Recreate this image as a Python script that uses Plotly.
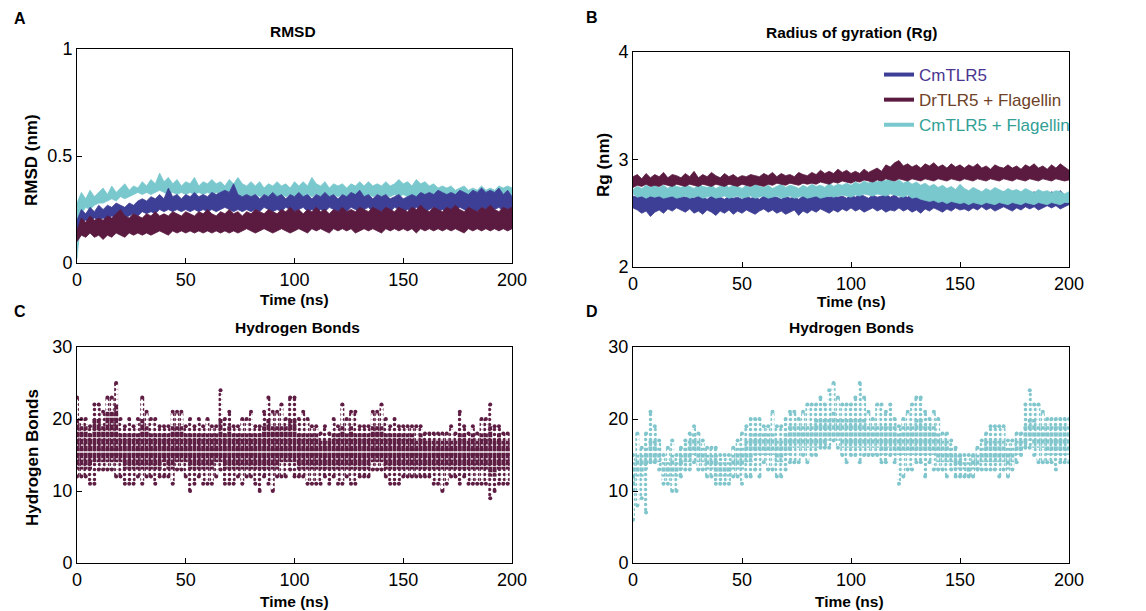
import plotly.graph_objects as go

# ---------------- data ----------------
time_ns = list(range(0, 201, 2))

# A - RMSD (nm): upper / lower edge of each trace band
rmsd_cmf_hi = [0.28,0.33,0.30,0.34,0.31,0.33, 0.35,0.32,0.36,0.33,0.35, 0.37,0.34,0.36,0.35,0.38,
               0.36,0.39,0.37,0.42,0.38, 0.40,0.37,0.39,0.36,0.38, 0.37,0.40,0.36,0.38,0.37,
               0.39,0.37,0.38,0.36,0.39, 0.37,0.40,0.37,0.36,0.38, 0.36,0.38,0.35,0.37,0.36,
               0.38,0.36,0.37,0.35,0.38, 0.36,0.38,0.36,0.40,0.37, 0.36,0.38,0.35,0.37,0.36,
               0.37,0.35,0.37,0.36,0.38, 0.36,0.38,0.36,0.37,0.36, 0.38,0.36,0.37,0.39,0.37,
               0.38,0.36,0.39,0.37,0.38, 0.36,0.37,0.35,0.36,0.35, 0.36,0.34,0.35,0.36,0.34,
               0.35,0.34,0.36,0.34,0.35, 0.34,0.36,0.35,0.36,0.35]
rmsd_cmf_lo = [0.02,0.23,0.26,0.25,0.27,0.28, 0.28,0.29,0.30,0.29,0.31, 0.30,0.31,0.32,0.33,0.32,
               0.33,0.32,0.33,0.34,0.33, 0.32,0.33,0.32,0.33,0.32, 0.33,0.32,0.33,0.32,0.33,
               0.32,0.33,0.32,0.33,0.32, 0.33,0.32,0.31,0.32,0.31, 0.32,0.31,0.32,0.31,0.32,
               0.31,0.32,0.31,0.32,0.31, 0.32,0.31,0.32,0.31,0.32, 0.31,0.32,0.31,0.32,0.31,
               0.32,0.31,0.32,0.31,0.32, 0.31,0.32,0.31,0.32,0.31, 0.32,0.31,0.32,0.31,0.32,
               0.31,0.32,0.30,0.31,0.30, 0.31,0.30,0.29,0.30,0.29, 0.30,0.29,0.30,0.29,0.30,
               0.29,0.30,0.29,0.30,0.29, 0.30,0.29,0.30,0.31,0.31]
rmsd_cm_hi = [0.20,0.25,0.23,0.26,0.24,0.27, 0.25,0.27,0.26,0.28,0.27, 0.26,0.28,0.27,0.29,0.30,
              0.29,0.31,0.30,0.32,0.30, 0.35,0.31,0.32,0.30,0.32, 0.31,0.33,0.31,0.32,0.31,
              0.33,0.32,0.33,0.34,0.33, 0.37,0.32,0.31,0.32,0.31, 0.32,0.30,0.32,0.31,0.33,
              0.31,0.32,0.30,0.32,0.31, 0.33,0.31,0.32,0.30,0.32, 0.31,0.33,0.31,0.32,0.30,
              0.32,0.31,0.33,0.32,0.34, 0.31,0.32,0.30,0.32,0.31, 0.32,0.30,0.31,0.32,0.30,
              0.31,0.32,0.31,0.33,0.32, 0.33,0.32,0.34,0.33,0.32, 0.33,0.32,0.34,0.33,0.32,
              0.34,0.33,0.35,0.33,0.34, 0.33,0.35,0.32,0.34,0.31]
rmsd_cm_lo = [0.12,0.19,0.20,0.19,0.21,0.20, 0.21,0.20,0.22,0.21,0.22, 0.21,0.22,0.23,0.22,0.24,
              0.23,0.24,0.23,0.25,0.24, 0.25,0.24,0.25,0.24,0.25, 0.24,0.25,0.24,0.25,0.24,
              0.25,0.24,0.25,0.26,0.25, 0.24,0.25,0.24,0.25,0.24, 0.25,0.24,0.26,0.25,0.24,
              0.25,0.24,0.26,0.25,0.24, 0.25,0.26,0.24,0.25,0.24, 0.25,0.24,0.26,0.25,0.24,
              0.25,0.24,0.26,0.25,0.24, 0.25,0.26,0.24,0.25,0.24, 0.25,0.24,0.26,0.25,0.24,
              0.25,0.24,0.26,0.25,0.24, 0.25,0.26,0.24,0.25,0.24, 0.25,0.24,0.26,0.25,0.24,
              0.25,0.24,0.26,0.25,0.24, 0.25,0.26,0.24,0.25,0.25]
rmsd_dr_hi = [0.15,0.21,0.19,0.22,0.20,0.21, 0.20,0.22,0.21,0.23,0.25, 0.22,0.21,0.23,0.22,0.21,
              0.23,0.22,0.24,0.22,0.23, 0.22,0.24,0.23,0.22,0.24, 0.23,0.22,0.24,0.23,0.25,
              0.23,0.22,0.24,0.23,0.25, 0.23,0.24,0.22,0.24,0.23, 0.25,0.24,0.23,0.25,0.24,
              0.23,0.25,0.24,0.26,0.24, 0.25,0.23,0.25,0.24,0.26, 0.24,0.25,0.23,0.25,0.24,
              0.26,0.24,0.25,0.24,0.26, 0.25,0.24,0.26,0.25,0.24, 0.26,0.25,0.24,0.26,0.25,
              0.24,0.26,0.25,0.27,0.25, 0.24,0.26,0.25,0.24,0.26, 0.25,0.27,0.25,0.24,0.26,
              0.25,0.24,0.26,0.25,0.27, 0.25,0.24,0.26,0.25,0.26]
rmsd_dr_lo = [0.10,0.13,0.12,0.14,0.12,0.13, 0.11,0.13,0.12,0.14,0.13, 0.12,0.14,0.13,0.14,0.13,
              0.14,0.13,0.14,0.15,0.14, 0.13,0.15,0.14,0.15,0.14, 0.15,0.14,0.15,0.14,0.15,
              0.14,0.15,0.14,0.15,0.14, 0.15,0.14,0.15,0.16,0.15, 0.14,0.15,0.16,0.15,0.14,
              0.15,0.16,0.15,0.14,0.15, 0.16,0.15,0.14,0.16,0.15, 0.16,0.15,0.14,0.16,0.15,
              0.16,0.15,0.16,0.14,0.15, 0.16,0.15,0.16,0.15,0.14, 0.16,0.15,0.16,0.15,0.16,
              0.15,0.16,0.14,0.16,0.15, 0.16,0.15,0.16,0.15,0.16, 0.15,0.16,0.15,0.14,0.16,
              0.15,0.16,0.15,0.16,0.15, 0.16,0.15,0.16,0.15,0.16]

# B - radius of gyration (nm)
rg_dr_hi = [2.84,2.86,2.82,2.87,2.83,2.86, 2.84,2.88,2.83,2.86,2.85, 2.83,2.87,2.84,2.89,2.83,
            2.86,2.84,2.88,2.85,2.83, 2.87,2.84,2.86,2.83,2.85, 2.84,2.86,2.85,2.84,2.87,
            2.85,2.88,2.84,2.87,2.85, 2.86,2.84,2.88,2.86,2.85, 2.88,2.86,2.90,2.87,2.89,
            2.87,2.91,2.88,2.90,2.87, 2.89,2.87,2.91,2.88,2.90, 2.92,2.89,2.95,2.93,2.97,
            2.99,2.94,2.96,2.93,2.95, 2.92,2.96,2.94,2.97,2.93, 2.95,2.92,2.96,2.93,2.95,
            2.92,2.95,2.93,2.96,2.92, 2.94,2.91,2.95,2.93,2.92, 2.95,2.92,2.94,2.91,2.95,
            2.93,2.96,2.92,2.94,2.91, 2.95,2.92,2.96,2.93,2.90]
rg_dr_lo = [2.74,2.76,2.75,2.77,2.75,2.76, 2.75,2.77,2.76,2.75,2.77, 2.76,2.75,2.77,2.76,2.75,
            2.77,2.76,2.75,2.77,2.76, 2.75,2.77,2.76,2.75,2.77, 2.76,2.75,2.77,2.76,2.75,
            2.77,2.76,2.78,2.77,2.76, 2.78,2.77,2.76,2.78,2.77, 2.78,2.77,2.79,2.78,2.77,
            2.79,2.78,2.80,2.79,2.78, 2.80,2.79,2.81,2.80,2.79, 2.81,2.80,2.82,2.81,2.80,
            2.82,2.81,2.80,2.82,2.81, 2.80,2.82,2.81,2.80,2.82, 2.81,2.80,2.82,2.81,2.80,
            2.82,2.81,2.80,2.82,2.81, 2.80,2.82,2.81,2.80,2.82, 2.81,2.80,2.82,2.81,2.80,
            2.82,2.81,2.80,2.82,2.81, 2.80,2.82,2.81,2.80,2.81]
rg_cmf_hi = [2.72,2.75,2.73,2.76,2.74,2.77, 2.74,2.76,2.73,2.77,2.75, 2.74,2.76,2.75,2.73,2.77,
             2.75,2.74,2.76,2.73,2.75, 2.77,2.74,2.76,2.75,2.73, 2.76,2.74,2.77,2.75,2.74,
             2.76,2.73,2.75,2.77,2.74, 2.76,2.75,2.73,2.76,2.74, 2.77,2.75,2.76,2.74,2.78,
             2.75,2.77,2.76,2.78,2.76, 2.79,2.77,2.80,2.78,2.81, 2.79,2.82,2.80,2.83,2.79,
             2.81,2.78,2.80,2.77,2.79, 2.76,2.78,2.75,2.77,2.74, 2.76,2.73,2.75,2.72,2.77,
             2.73,2.71,2.74,2.72,2.70, 2.73,2.71,2.74,2.72,2.70, 2.73,2.71,2.72,2.70,2.73,
             2.71,2.69,2.72,2.70,2.71, 2.69,2.71,2.70,2.68,2.70]
rg_cmf_lo = [2.68,2.65,2.66,2.64,2.66,2.65, 2.66,2.64,2.65,2.66,2.64, 2.65,2.66,2.64,2.65,2.66,
             2.64,2.65,2.66,2.64,2.65, 2.66,2.64,2.65,2.66,2.64, 2.65,2.66,2.64,2.65,2.66,
             2.64,2.65,2.66,2.64,2.65, 2.66,2.64,2.65,2.66,2.64, 2.65,2.66,2.64,2.65,2.66,
             2.65,2.66,2.67,2.66,2.65, 2.67,2.66,2.68,2.67,2.66, 2.68,2.67,2.66,2.68,2.67,
             2.66,2.65,2.67,2.64,2.65, 2.63,2.62,2.61,2.62,2.60, 2.61,2.59,2.61,2.60,2.59,
             2.60,2.58,2.60,2.59,2.58, 2.60,2.59,2.58,2.60,2.59, 2.58,2.60,2.59,2.58,2.60,
             2.59,2.58,2.60,2.59,2.58, 2.60,2.59,2.58,2.60,2.60]
rg_cm_hi = [2.66,2.65,2.67,2.64,2.66,2.65, 2.67,2.65,2.68,2.66,2.64, 2.67,2.65,2.66,2.64,2.67,
            2.65,2.63,2.66,2.64,2.65, 2.63,2.66,2.64,2.65,2.63, 2.66,2.64,2.65,2.63,2.66,
            2.64,2.66,2.65,2.63,2.66, 2.64,2.65,2.63,2.66,2.64, 2.65,2.67,2.64,2.66,2.65,
            2.67,2.65,2.66,2.64,2.67, 2.65,2.68,2.66,2.64,2.67, 2.65,2.66,2.68,2.65,2.67,
            2.64,2.66,2.65,2.68,2.66, 2.64,2.67,2.65,2.66,2.64, 2.67,2.65,2.68,2.66,2.64,
            2.67,2.69,2.65,2.67,2.66, 2.68,2.66,2.69,2.67,2.70, 2.68,2.66,2.69,2.67,2.71,
            2.68,2.70,2.67,2.69,2.66, 2.70,2.68,2.71,2.67,2.68]
rg_cm_lo = [2.55,2.53,2.50,2.52,2.47,2.51, 2.53,2.50,2.54,2.52,2.55, 2.53,2.51,2.54,2.50,2.52,
            2.49,2.53,2.51,2.48,2.52, 2.50,2.53,2.49,2.52,2.50, 2.53,2.51,2.49,2.52,2.54,
            2.51,2.53,2.50,2.52,2.49, 2.51,2.53,2.48,2.52,2.50, 2.53,2.51,2.54,2.52,2.50,
            2.53,2.51,2.54,2.52,2.55, 2.52,2.54,2.51,2.53,2.55, 2.52,2.54,2.51,2.53,2.52,
            2.55,2.52,2.54,2.51,2.53, 2.50,2.54,2.52,2.55,2.53, 2.51,2.54,2.52,2.55,2.53,
            2.54,2.52,2.55,2.53,2.56, 2.53,2.55,2.52,2.54,2.56, 2.54,2.52,2.55,2.53,2.56,
            2.54,2.56,2.53,2.55,2.57, 2.55,2.57,2.54,2.56,2.58]

# C - hydrogen bonds DrTLR5 + Flagellin, per 2 ns window: extremes and dense core
hb_c_time = list(range(0, 200, 2))
hb_c_max = [23,20,20,19,22,22,21,23,23,25, 20,19,20,19,20,23,21,20,20,19,
            19,19,21,21,21,19,20,19,20,19, 20,19,19,24,20,21,19,19,20,20,
            21,19,19,21,23,21,21,22,20,23, 23,20,21,20,19,19,18,19,18,20,
            19,22,20,21,21,19,19,19,21,21, 22,20,19,20,19,19,19,19,19,19,
            18,18,18,18,18,18,19,18,21,19, 18,19,18,20,20,22,19,19,18,18]
hb_c_min = [12,12,12,11,11,13,13,13,13,12, 12,11,11,11,12,11,12,12,11,12,
            12,12,11,13,13,12,10,11,12,11, 11,11,12,13,11,11,11,12,11,12,
            12,11,10,12,11,10,12,12,12,13, 12,12,12,11,11,11,11,12,11,12,
            11,11,12,11,11,12,12,12,13,13, 13,12,11,11,11,12,12,12,12,12,
            12,12,11,11,10,11,12,12,11,12, 11,11,11,11,11,9,10,11,11,11]
hb_c_top = [20,19,19,18,20,20,19,21,21,22, 18,18,18,18,18,20,19,18,18,18,
            18,18,19,19,19,18,18,18,18,18, 18,18,18,20,18,19,18,18,18,18,
            18,18,18,19,20,19,19,19,19,20, 20,18,18,18,18,18,17,17,17,18,
            18,19,18,19,18,18,18,18,19,19, 19,18,18,18,18,18,18,18,17,18,
            17,17,17,17,17,17,17,17,18,18, 17,18,17,18,18,19,17,18,17,17]
hb_c_bot = [13,13,13,13,14,14,14,14,14,14, 14,13,13,13,13,13,13,13,13,13,
            14,13,13,14,14,14,13,13,13,13, 13,13,14,14,13,13,13,13,13,13,
            13,13,13,13,13,13,13,14,14,14, 14,13,13,13,13,13,13,13,13,13,
            13,13,13,13,13,13,13,13,14,14, 14,13,13,13,13,13,13,13,13,13,
            13,13,13,13,13,13,13,13,13,13, 13,13,13,13,13,12,12,13,13,13]

# D - hydrogen bonds CmTLR5 + Flagellin
hb_d_time = list(range(0, 201, 2))
hb_d_max = [15,18,16,18,21,19,17,15,16,17, 15,16,17,18,19,18,17,16,16,16,
            15,15,15,16,17,18,19,20,20,20, 19,19,21,19,19,20,21,21,20,21,
            22,22,22,23,22,24,25,23,22,22, 22,23,25,23,21,20,22,22,21,22,
            20,19,20,21,22,23,23,21,20,21, 20,18,18,17,16,15,15,15,15,16,
            17,18,19,19,19,19,17,17,18,18, 22,24,22,22,21,20,20,20,20,20, 20]
hb_d_min = [6,8,9,7,14,14,13,11,11,10, 10,12,13,13,14,13,13,12,12,11,
            11,11,11,12,12,11,12,12,13,12, 14,13,13,12,12,13,14,14,14,15,
            14,15,15,16,16,16,17,16,15,14, 15,15,14,15,15,15,15,14,14,15,
            14,11,12,13,13,14,14,12,14,13, 13,13,12,13,12,12,12,12,12,13,
            13,13,13,13,12,13,12,13,14,15, 16,16,15,14,14,14,14,13,14,14, 14]
hb_d_top = [14,15,15,16,17,17,16,14,14,15, 14,15,16,17,18,17,16,15,15,15,
            14,14,14,15,16,16,17,18,18,18, 18,18,18,17,17,18,19,19,19,19,
            19,19,20,20,20,20,21,20,20,20, 20,20,20,20,19,19,19,19,19,19,
            19,18,19,19,19,20,20,19,19,19, 18,17,17,16,15,15,14,14,15,15,
            16,17,17,17,17,17,16,16,17,17, 19,20,20,19,19,19,19,19,19,19, 19]
hb_d_bot = [10,12,12,13,14,14,14,12,12,12, 12,13,14,14,15,14,14,13,13,12,
            12,12,12,13,13,13,14,14,15,15, 15,15,15,14,14,15,15,16,16,16,
            16,16,16,16,16,17,17,17,16,16, 16,16,16,16,16,16,16,15,15,16,
            15,15,15,15,15,15,15,15,15,15, 14,14,14,14,13,13,13,12,13,13,
            14,14,14,14,14,14,13,14,15,15, 16,17,16,16,16,15,15,15,15,15, 15]

series_names = ["CmTLR5", "DrTLR5 + Flagellin", "CmTLR5 + Flagellin"]
line_colors = ["#3d3f96", "#5b1a40", "#79c8ce"]
text_colors = ["#4a3590", "#6e4226", "#33a096"]
hb_c_color = "#5e1d43"
hb_d_color = "#80c6cc"

FONT = "Arial, Liberation Sans, Helvetica, sans-serif"


def band(x, lo, hi, color, xa, ya):
    # filled band between lower and upper edge of a noisy trace
    return go.Scatter(x=x + x[::-1], y=hi + lo[::-1], mode="lines", fill="toself",
                      fillcolor=color, line=dict(color=color, width=0.8),
                      xaxis=xa, yaxis=ya, showlegend=False, hoverinfo="skip")


def hb_traces(t, vmin, vmax, bot, top, color, xa, ya, solid):
    out = []
    out.append(go.Bar(x=t, y=[a - b for a, b in zip(vmax, vmin)], base=vmin, width=1.8,
                      opacity=1,
                      marker=dict(color=color, opacity=1, line=dict(width=0),
                                  pattern=dict(shape=".", fgcolor=color, fgopacity=1,
                                               bgcolor="rgba(255,255,255,0)",
                                               size=5, solidity=0.4)),
                      xaxis=xa, yaxis=ya, showlegend=False, hoverinfo="skip"))
    out.append(go.Bar(x=t, y=[a - b for a, b in zip(top, bot)], base=bot, width=1.8,
                      opacity=1,
                      marker=dict(color=color, opacity=1, line=dict(width=0),
                                  pattern=dict(shape="-", fgcolor=color, fgopacity=1,
                                               bgcolor="rgba(255,255,255,0)",
                                               size=7, solidity=solid)),
                      xaxis=xa, yaxis=ya, showlegend=False, hoverinfo="skip"))
    out.append(go.Scatter(x=t + t, y=vmax + vmin, mode="markers",
                          marker=dict(color=color, size=4),
                          xaxis=xa, yaxis=ya, showlegend=False, hoverinfo="skip"))
    return out


fig = go.Figure()

# panel A (draw order: cyan, blue, maroon)
fig.add_trace(band(time_ns, rmsd_cmf_lo, rmsd_cmf_hi, line_colors[2], "x", "y"))
fig.add_trace(band(time_ns, rmsd_cm_lo, rmsd_cm_hi, line_colors[0], "x", "y"))
fig.add_trace(band(time_ns, rmsd_dr_lo, rmsd_dr_hi, line_colors[1], "x", "y"))

# panel B
fig.add_trace(band(time_ns, rg_cm_lo, rg_cm_hi, line_colors[0], "x2", "y2"))
fig.add_trace(band(time_ns, rg_cmf_lo, rg_cmf_hi, line_colors[2], "x2", "y2"))
fig.add_trace(band(time_ns, rg_dr_lo, rg_dr_hi, line_colors[1], "x2", "y2"))

# legend entries
for name, lc, tc in zip(series_names, line_colors, text_colors):
    fig.add_trace(go.Scatter(x=[None], y=[None], mode="lines", line=dict(color=lc, width=4),
                             name='<span style="color:%s">%s</span>' % (tc, name),
                             xaxis="x2", yaxis="y2"))

# panels C and D
for tr in hb_traces(hb_c_time, hb_c_min, hb_c_max, hb_c_bot, hb_c_top, hb_c_color, "x3", "y3", 0.8):
    fig.add_trace(tr)
for tr in hb_traces(hb_d_time, hb_d_min, hb_d_max, hb_d_bot, hb_d_top, hb_d_color, "x4", "y4", 0.6):
    fig.add_trace(tr)

# page body has an 8px margin, so the figure is drawn a bit smaller and offset
OFF = 8
W, H = 1146 - OFF, 611 - OFF


def px_x(v):
    return (v - OFF) / W


def px_y(v):
    return 1 - (v - OFF) / H


axis_common = dict(showline=True, linecolor="black", linewidth=1, mirror=True,
                   ticks="inside", ticklen=5, tickcolor="black", tickwidth=1,
                   showgrid=False, zeroline=False, automargin=False,
                   tickfont=dict(family=FONT, size=18, color="black"))

xdom_l = [px_x(77), px_x(512)]
xdom_r = [px_x(633), px_x(1069)]
ydom_a = [px_y(263), px_y(49)]
ydom_b = [px_y(267), px_y(52)]
ydom_cd = [px_y(563), px_y(347)]

xticks = dict(range=[0, 200], tickvals=[0, 50, 100, 150, 200])

fig.update_layout(
    width=W, height=H, margin=dict(l=0, r=0, t=0, b=0, pad=0, autoexpand=False),
    paper_bgcolor="white", plot_bgcolor="white", barmode="overlay",
    xaxis=dict(domain=xdom_l, anchor="y", **xticks, **axis_common),
    yaxis=dict(domain=ydom_a, anchor="x", range=[0, 1], tickvals=[0, 0.5, 1],
               ticktext=["0", "0.5", "1"], **axis_common),
    xaxis2=dict(domain=xdom_r, anchor="y2", **xticks, **axis_common),
    yaxis2=dict(domain=ydom_b, anchor="x2", range=[2, 4], tickvals=[2, 3, 4], **axis_common),
    xaxis3=dict(domain=xdom_l, anchor="y3", **xticks, **axis_common),
    yaxis3=dict(domain=ydom_cd, anchor="x3", range=[0, 30], tickvals=[0, 10, 20, 30], **axis_common),
    xaxis4=dict(domain=xdom_r, anchor="y4", **xticks, **axis_common),
    yaxis4=dict(domain=ydom_cd, anchor="x4", range=[0, 30], tickvals=[0, 10, 20, 30], **axis_common),
    showlegend=True,
    legend=dict(x=px_x(879), y=px_y(57), xanchor="left", yanchor="top",
                bgcolor="rgba(255,255,255,0)", borderwidth=0,
                font=dict(family=FONT, size=17), itemwidth=30),
)

# text labels: (text, x px, y px, size, bold, angle)
labels = [
    ("A", 20, 18, 16, True, 0), ("B", 592, 17, 16, True, 0),
    ("C", 20, 311, 16, True, 0), ("D", 592, 311, 16, True, 0),
    ("RMSD", 293, 31, 15.5, True, 0), ("Radius of gyration (Rg)", 851, 32, 15.5, True, 0),
    ("Hydrogen Bonds", 297, 327, 15.5, True, 0), ("Hydrogen Bonds", 851, 327, 15.5, True, 0),
    ("Time (ns)", 294, 299, 15.5, True, 0), ("Time (ns)", 851, 301, 15.5, True, 0),
    ("Time (ns)", 294, 601, 15.5, True, 0), ("Time (ns)", 849, 601, 15.5, True, 0),
    ("RMSD (nm)", 32, 160, 17, True, -90), ("Rg (nm)", 603, 165, 17, True, -90),
    ("Hydrogen Bonds", 32, 458, 17, True, -90),
]
for txt, x, y, size, bold, ang in labels:
    fig.add_annotation(text="<b>%s</b>" % txt if bold else txt, x=px_x(x), y=px_y(y),
                       xref="paper", yref="paper", showarrow=False, textangle=ang,
                       xanchor="center", yanchor="middle",
                       font=dict(family=FONT, size=size, color="black"))

fig.write_html("out.html")
